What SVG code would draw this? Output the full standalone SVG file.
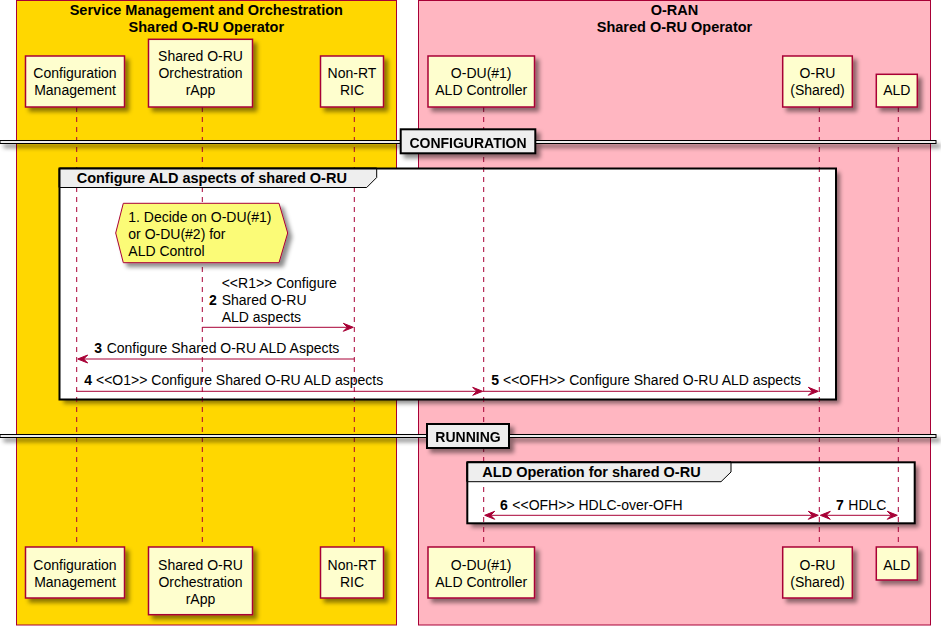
<svg xmlns="http://www.w3.org/2000/svg" width="941" height="626" viewBox="0 0 941 626">
<defs>
<filter id="sh" x="-20%" y="-20%" width="140%" height="160%">
<feGaussianBlur in="SourceAlpha" stdDeviation="2" result="b"/>
<feColorMatrix in="b" type="matrix" values="0 0 0 0 0  0 0 0 0 0  0 0 0 0 0  0 0 0 0.45 0" result="c"/>
<feOffset in="c" dx="4" dy="4" result="o"/>
<feMerge><feMergeNode in="o"/><feMergeNode in="SourceGraphic"/></feMerge>
</filter>
<style>
text{font-family:"Liberation Sans",Arial,Helvetica,sans-serif;fill:#000}
.t{font-size:14px}
.b{font-size:14px;font-weight:bold}
.bt{font-size:14.5px;font-weight:bold}
.p{fill:#FEFECE;stroke:#A80036;stroke-width:1.5}
.life{stroke:#A80036;stroke-width:1;stroke-dasharray:5,5}
.msg{stroke:#A80036;stroke-width:1;fill:none}
.ah{fill:#A80036;stroke:#A80036;stroke-width:1}
.frame{fill:none;stroke:#000;stroke-width:2}
.tab{fill:#EEEEEE;stroke:#000;stroke-width:1}
.div{fill:#EEEEEE;stroke:#000;stroke-width:1}
.divl{fill:#EEEEEE;stroke:#000;stroke-width:2}
</style>
</defs>
<rect x="0" y="0" width="941" height="626" fill="#FFFFFF"/>

<g id="box-smo">
<rect x="16.5" y="0.5" width="380" height="624.5" fill="#FFD700" stroke="#A80036" stroke-width="1"/>
<text class="bt" x="206.3" y="15" text-anchor="middle">Service Management and Orchestration</text>
<text class="bt" x="206.3" y="32" text-anchor="middle">Shared O-RU Operator</text>
</g>
<g id="box-oran">
<rect x="418.5" y="0.5" width="512" height="624.5" fill="#FFB6C1" stroke="#A80036" stroke-width="1"/>
<text class="bt" x="674.5" y="15" text-anchor="middle">O-RAN</text>
<text class="bt" x="674.5" y="32" text-anchor="middle">Shared O-RU Operator</text>
</g>

<g id="frame1-bg"><rect x="59.5" y="168.5" width="776.5" height="231" fill="#FFFFFF" filter="url(#sh)"/></g>
<g id="frame2-bg"><rect x="467.3" y="462.3" width="447.4" height="61" fill="#FFFFFF" filter="url(#sh)"/></g>

<g id="lifelines">
<line class="life" x1="76.7" y1="107" x2="76.7" y2="547"/>
<line class="life" x1="202.3" y1="107" x2="202.3" y2="547"/>
<line class="life" x1="354.3" y1="107" x2="354.3" y2="547"/>
<line class="life" x1="483.7" y1="107" x2="483.7" y2="547"/>
<line class="life" x1="819.3" y1="107" x2="819.3" y2="547"/>
<line class="life" x1="898.3" y1="107" x2="898.3" y2="547"/>
</g>

<g id="frame1">
<rect class="frame" x="59.5" y="168.5" width="776.5" height="231"/>
<polygon class="tab" points="59.5,168.5 376.7,168.5 376.7,177.5 366.7,187.5 59.5,187.5"/>
<line x1="59.5" y1="168.5" x2="376.7" y2="168.5" stroke="#000" stroke-width="2"/>
<line x1="59.5" y1="168.5" x2="59.5" y2="187.5" stroke="#000" stroke-width="2"/>
<text class="bt" x="76.7" y="182.7">Configure ALD aspects of shared O-RU</text>
</g>
<g id="frame2">
<rect class="frame" x="467.3" y="462.3" width="447.4" height="61"/>
<polygon class="tab" points="467.3,462.3 731,462.3 731,472 721,481.7 467.3,481.7"/>
<line x1="467.3" y1="462.3" x2="731" y2="462.3" stroke="#000" stroke-width="2"/>
<line x1="467.3" y1="462.3" x2="467.3" y2="481.7" stroke="#000" stroke-width="2"/>
<text class="bt" x="482.3" y="476.7">ALD Operation for shared O-RU</text>
</g>

<g id="div-config" filter="url(#sh)">
<rect class="div" x="0" y="140.5" width="936" height="3"/>
<rect class="divl" x="400.7" y="129.3" width="134.6" height="24"/>
<text class="b" x="468" y="147.5" text-anchor="middle">CONFIGURATION</text>
</g>
<g id="div-running" filter="url(#sh)">
<rect class="div" x="0" y="434.5" width="936" height="3"/>
<rect class="divl" x="427" y="424" width="82" height="24"/>
<text class="b" x="468" y="441.7" text-anchor="middle">RUNNING</text>
</g>

<g id="note1">
<polygon points="115.7,233 123.3,203.3 279,203.3 287.7,233 279,262.7 123.3,262.7" fill="#FBFB77" stroke="#A80036" stroke-width="1" filter="url(#sh)"/>
<text class="t" x="128.3" y="222.3">1. Decide on O-DU(#1)</text>
<text class="t" x="128.3" y="239.3">or O-DU(#2) for</text>
<text class="t" x="128.3" y="256.3">ALD Control</text>
</g>

<g id="connectors">
<g id="m2">
<line class="msg" x1="202.3" y1="327.3" x2="350.3" y2="327.3"/>
<polygon class="ah" points="343.3,323.3 353.3,327.3 343.3,331.3 347.3,327.3"/>
<text class="b" x="209" y="305">2</text>
<text class="t" x="221.7" y="288">&lt;&lt;R1&gt;&gt; Configure</text>
<text class="t" x="221.7" y="305">Shared O-RU</text>
<text class="t" x="221.7" y="322">ALD aspects</text>
</g>
<g id="m3">
<line class="msg" x1="354.3" y1="359" x2="80.7" y2="359"/>
<polygon class="ah" points="87.7,355 77.7,359 87.7,363 83.7,359"/>
<text class="b" x="94.3" y="353.3">3</text>
<text class="t" x="106.7" y="353.3">Configure Shared O-RU ALD Aspects</text>
</g>
<g id="m4">
<line class="msg" x1="76.7" y1="391.3" x2="479.7" y2="391.3"/>
<polygon class="ah" points="472.7,387.3 482.7,391.3 472.7,395.3 476.7,391.3"/>
<text class="b" x="84.3" y="385.3">4</text>
<text class="t" x="96" y="385.3">&lt;&lt;O1&gt;&gt; Configure Shared O-RU ALD aspects</text>
</g>
<g id="m5">
<line class="msg" x1="483.7" y1="391.3" x2="815.3" y2="391.3"/>
<polygon class="ah" points="808.3,387.3 818.3,391.3 808.3,395.3 812.3,391.3"/>
<text class="b" x="491.3" y="385.3">5</text>
<text class="t" x="503" y="385.3">&lt;&lt;OFH&gt;&gt; Configure Shared O-RU ALD aspects</text>
</g>
<g id="m6">
<line class="msg" x1="487.7" y1="515.3" x2="815.3" y2="515.3"/>
<polygon class="ah" points="494.7,511.3 484.7,515.3 494.7,519.3 490.7,515.3"/>
<polygon class="ah" points="808.3,511.3 818.3,515.3 808.3,519.3 812.3,515.3"/>
<text class="b" x="500" y="510">6</text>
<text class="t" x="512.3" y="510">&lt;&lt;OFH&gt;&gt; HDLC-over-OFH</text>
</g>
<g id="m7">
<line class="msg" x1="823.3" y1="515.3" x2="894.3" y2="515.3"/>
<polygon class="ah" points="830.3,511.3 820.3,515.3 830.3,519.3 826.3,515.3"/>
<polygon class="ah" points="887.3,511.3 897.3,515.3 887.3,519.3 891.3,515.3"/>
<text class="b" x="836" y="510">7</text>
<text class="t" x="848.3" y="510">HDLC</text>
</g>
</g>

<g id="p-cm-top">
<rect class="p" x="25.5" y="56" width="99" height="51" filter="url(#sh)"/>
<text class="t" x="75" y="78" text-anchor="middle">Configuration</text>
<text class="t" x="75" y="95" text-anchor="middle">Management</text>
</g>
<g id="p-rapp-top">
<rect class="p" x="148.5" y="39.3" width="104" height="67.7" filter="url(#sh)"/>
<text class="t" x="200.5" y="61" text-anchor="middle">Shared O-RU</text>
<text class="t" x="200.5" y="78" text-anchor="middle">Orchestration</text>
<text class="t" x="200.5" y="95" text-anchor="middle">rApp</text>
</g>
<g id="p-nrt-top">
<rect class="p" x="320.5" y="56" width="63" height="51" filter="url(#sh)"/>
<text class="t" x="352" y="78" text-anchor="middle">Non-RT</text>
<text class="t" x="352" y="95" text-anchor="middle">RIC</text>
</g>
<g id="p-odu-top">
<rect class="p" x="428" y="56" width="106.5" height="51" filter="url(#sh)"/>
<text class="t" x="481.2" y="78" text-anchor="middle">O-DU(#1)</text>
<text class="t" x="481.2" y="95" text-anchor="middle">ALD Controller</text>
</g>
<g id="p-oru-top">
<rect class="p" x="782.7" y="56" width="69.6" height="51" filter="url(#sh)"/>
<text class="t" x="817.5" y="78" text-anchor="middle">O-RU</text>
<text class="t" x="817.5" y="95" text-anchor="middle">(Shared)</text>
</g>
<g id="p-ald-top">
<rect class="p" x="876.3" y="74.3" width="41" height="32.7" filter="url(#sh)"/>
<text class="t" x="896.8" y="95" text-anchor="middle">ALD</text>
</g>

<g id="p-cm-bot">
<rect class="p" x="25.5" y="547" width="99" height="51" filter="url(#sh)"/>
<text class="t" x="75" y="570" text-anchor="middle">Configuration</text>
<text class="t" x="75" y="587" text-anchor="middle">Management</text>
</g>
<g id="p-rapp-bot">
<rect class="p" x="148.5" y="547" width="104" height="67.7" filter="url(#sh)"/>
<text class="t" x="200.5" y="570" text-anchor="middle">Shared O-RU</text>
<text class="t" x="200.5" y="587" text-anchor="middle">Orchestration</text>
<text class="t" x="200.5" y="604" text-anchor="middle">rApp</text>
</g>
<g id="p-nrt-bot">
<rect class="p" x="320.5" y="547" width="63" height="51" filter="url(#sh)"/>
<text class="t" x="352" y="570" text-anchor="middle">Non-RT</text>
<text class="t" x="352" y="587" text-anchor="middle">RIC</text>
</g>
<g id="p-odu-bot">
<rect class="p" x="428" y="547" width="106.5" height="51" filter="url(#sh)"/>
<text class="t" x="481.2" y="570" text-anchor="middle">O-DU(#1)</text>
<text class="t" x="481.2" y="587" text-anchor="middle">ALD Controller</text>
</g>
<g id="p-oru-bot">
<rect class="p" x="782.7" y="547" width="69.6" height="51" filter="url(#sh)"/>
<text class="t" x="817.5" y="570" text-anchor="middle">O-RU</text>
<text class="t" x="817.5" y="587" text-anchor="middle">(Shared)</text>
</g>
<g id="p-ald-bot">
<rect class="p" x="876.3" y="547" width="41" height="33" filter="url(#sh)"/>
<text class="t" x="896.8" y="570" text-anchor="middle">ALD</text>
</g>
</svg>
